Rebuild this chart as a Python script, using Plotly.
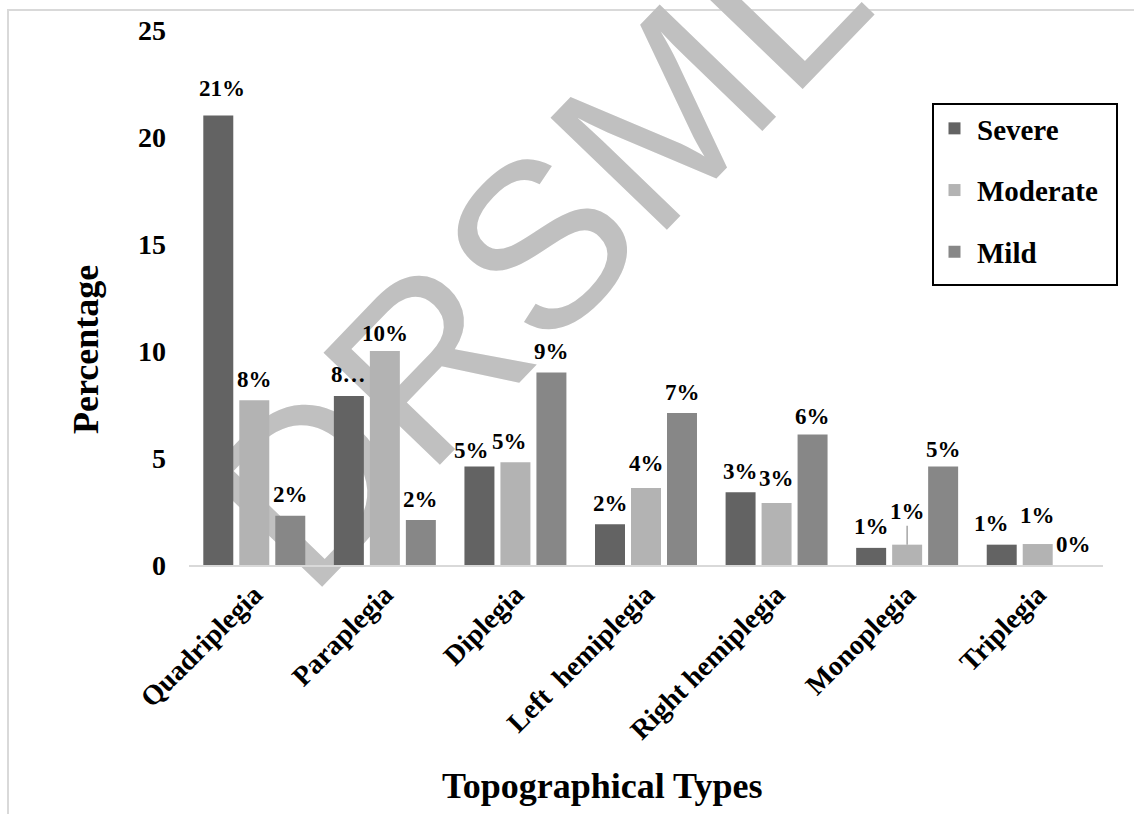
import plotly.graph_objects as go

# ---- data -------------------------------------------------------------
categories = ["Quadriplegia", "Paraplegia", "Diplegia", "Left\u00a0 hemiplegia",
              "Right hemiplegia", "Monoplegia", "Triplegia"]
series_names = ["Severe", "Moderate", "Mild"]
severe = [21.0, 7.9, 4.6, 1.9, 3.4, 0.8, 0.95]
moderate = [7.7, 10.0, 4.8, 3.6, 2.9, 0.95, 0.98]
mild = [2.3, 2.1, 9.0, 7.1, 6.1, 4.6, 0.0]
y_ticks = [0, 5, 10, 15, 20, 25]

# ---- styling ------------------------------------------------------------
colors = ["#636363", "#b3b3b3", "#878787"]
SERIF = "Liberation Serif, Times New Roman, serif"
W, H = 1134, 814
L, R, T, B = 189, 31, 30, 249          # plot-area margins in px
GROUP_STEP = 36                         # px between bar centres in a group


def px_x(p):
    return (p - L) / (W - L - R)


def px_y(p):
    return (H - B - p) / (H - T - B)


fig = go.Figure()
values = [severe, moderate, mild]
for name, vals, col in zip(series_names, values, colors):
    fig.add_trace(go.Bar(
        x=categories, y=vals, name=name, legendgroup=name,
        marker=dict(color=col, line=dict(width=0)),
        hoverinfo="x+y",
    ))

# value labels above each bar
label_text_override = {("Severe", "Paraplegia"): "8\u2026"}
leader_labels = {("Moderate", "Monoplegia")}
label_lift = {("Severe", "Quadriplegia"): 27, ("Moderate", "Paraplegia"): 18,
              ("Severe", "Diplegia"): 16, ("Mild", "Right hemiplegia"): 18,
              ("Moderate", "Right hemiplegia"): 24, ("Mild", "Monoplegia"): 17,
              ("Moderate", "Triplegia"): 29, ("Moderate", "Left\u00a0 hemiplegia"): 24}
label_nudge = {("Severe", "Diplegia"): -8, ("Moderate", "Diplegia"): -6,
               ("Severe", "Triplegia"): -10, ("Severe", "Quadriplegia"): 4}
annotations = []
for i, (name, vals) in enumerate(zip(series_names, values)):
    for cat, v in zip(categories, vals):
        key = (name, cat)
        txt = label_text_override.get(key, f"{v:.0f}%")
        common = dict(x=cat, y=v, xref="x", yref="y", text=txt,
                      xshift=(i - 1) * GROUP_STEP + label_nudge.get(key, 0),
                      font=dict(family=SERIF, size=23, color="black", weight="bold"))
        if key in leader_labels:
            annotations.append(dict(**common, showarrow=True, arrowhead=0,
                                    arrowwidth=1.5, arrowcolor="#a6a6a6",
                                    ax=0, ay=-33))
        else:
            annotations.append(dict(**common, showarrow=False,
                                    yshift=label_lift.get(key, 21)))

# axis titles
annotations.append(dict(text="Percentage", x=px_x(86), y=px_y(350),
                        xref="paper", yref="paper", showarrow=False, textangle=-90,
                        xanchor="center", yanchor="middle",
                        font=dict(family=SERIF, size=36, color="black", weight="bold")))
annotations.append(dict(text="Topographical Types", x=px_x(602), y=px_y(786),
                        xref="paper", yref="paper", showarrow=False,
                        xanchor="center", yanchor="middle",
                        font=dict(family=SERIF, size=36, color="black", weight="bold")))

shapes = [
    # outer chart frame
    dict(type="rect", xref="paper", yref="paper",
         x0=px_x(8), x1=px_x(1150), y0=px_y(10), y1=px_y(830),
         line=dict(color="#d9d9d9", width=2), layer="below"),
    # watermark behind the bars
    dict(type="rect", xref="paper", yref="paper",
         x0=px_x(500), x1=px_x(540), y0=px_y(253), y1=px_y(213),
         line=dict(width=0), fillcolor="rgba(0,0,0,0)", layer="below",
         label=dict(text="DRSML", textangle=-46, textposition="middle center",
                    font=dict(family="Liberation Sans, Arial, sans-serif",
                              size=235, color="#c0c0c0"))),
    # legend frame
    dict(type="rect", xref="paper", yref="paper",
         x0=px_x(933), x1=px_x(1117), y0=px_y(104), y1=px_y(285),
         line=dict(color="black", width=2), layer="above"),
]

fig.update_layout(
    width=W, height=H,
    margin=dict(l=L, r=R, t=T, b=B),
    paper_bgcolor="white", plot_bgcolor="rgba(0,0,0,0)",
    barmode="group", bargap=0.173, bargroupgap=0.167,
    font=dict(family=SERIF, color="black"),
    showlegend=True,
    legend=dict(
        x=px_x(932), y=px_y(103), xanchor="left", yanchor="top",
        bgcolor="rgba(0,0,0,0)", borderwidth=0,
        font=dict(family=SERIF, size=29, color="black", weight="bold"),
        tracegroupgap=21, itemwidth=35,
    ),
    xaxis=dict(
        showline=True, linecolor="#d9d9d9", linewidth=2,
        showgrid=False, zeroline=False, ticks="",
        tickangle=-45,
        tickfont=dict(family=SERIF, size=28, color="black", weight="bold"),
    ),
    yaxis=dict(
        range=[0, 25], tickvals=y_ticks, showgrid=False, zeroline=False,
        showline=False, ticks="", ticklabelstandoff=22,
        tickfont=dict(family=SERIF, size=28, color="black", weight="bold"),
    ),
    annotations=annotations,
    shapes=shapes,
)

fig.write_html("out.html")
